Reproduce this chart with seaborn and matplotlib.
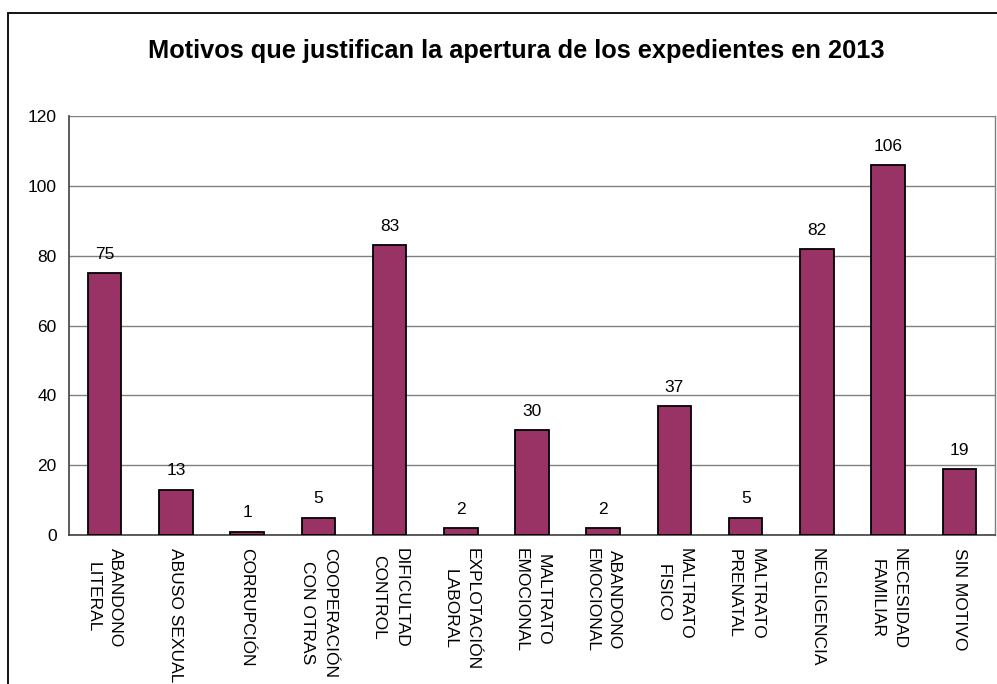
import matplotlib.pyplot as plt
import numpy as np
import pandas as pd
import seaborn as sns
from matplotlib.patches import Rectangle
from matplotlib.ticker import FixedLocator

# Data
categorias = ["ABANDONO\nLITERAL", "ABUSO SEXUAL", "CORRUPCIÓN", "COOPERACIÓN\nCON OTRAS",
              "DIFICULTAD\nCONTROL", "EXPLOTACIÓN\nLABORAL", "MALTRATO\nEMOCIONAL",
              "ABANDONO\nEMOCIONAL", "MALTRATO\nFISICO", "MALTRATO\nPRENATAL",
              "NEGLIGENCIA", "NECESIDAD\nFAMILIAR", "SIN MOTIVO"]
expedientes = [75, 13, 1, 5, 83, 2, 30, 2, 37, 5, 82, 106, 19]
y_ticks = [0, 20, 40, 60, 80, 100, 120]
titulo = "Motivos que justifican la apertura de los expedientes en 2013"

df = pd.DataFrame({"motivo": categorias, "n": expedientes})

sns.set_style("white")
plt.rcParams['font.family'] = ['Liberation Sans', 'DejaVu Sans']
plt.rcParams['text.color'] = 'black'
plt.rcParams['xtick.color'] = 'black'
plt.rcParams['ytick.color'] = 'black'

fig = plt.figure(figsize=(9.97, 6.84), dpi=100)
ax = fig.add_axes([69 / 997, 1 - 535 / 684, (995 - 69) / 997, (535 - 116) / 684])

sns.barplot(data=df, x="motivo", y="n", color="#993366", saturation=1, width=0.47,
            edgecolor="black", linewidth=1.3, ax=ax, zorder=3)

# value labels above the bars
for i, v in enumerate(expedientes):
    ax.annotate(str(v), (i, v), xytext=(0, 8), textcoords="offset points",
                ha="center", va="bottom", fontsize=12.5, color="black")

ax.set_xlim(-0.5, len(categorias) - 0.5)
ax.set_ylim(0, 120)
ax.set_yticks(y_ticks)
ax.set_yticklabels([str(t) for t in y_ticks], fontsize=12.5)
ax.yaxis.grid(True, color="#808080", linewidth=1, zorder=0)
ax.set_axisbelow(True)

ax.set_xticks(range(len(categorias)))
ax.set_xticklabels(categorias, rotation=270, fontsize=12.5, va="top", ha="center",
                   multialignment="center", linespacing=1.6)
ax.xaxis.set_minor_locator(FixedLocator(np.arange(-0.5, len(categorias), 1.0)))
ax.tick_params(axis="x", which="major", length=0, pad=9)
ax.tick_params(axis="x", which="minor", length=5, width=1, color="#404040", direction="out")
ax.tick_params(axis="y", length=5, width=1, color="#404040", direction="out", pad=4)

ax.set_xlabel("")
ax.set_ylabel("")

for side in ["left", "bottom"]:
    ax.spines[side].set_color("#404040")
    ax.spines[side].set_linewidth(1.2)
ax.spines["top"].set_visible(False)
ax.spines["right"].set_color("#808080")
ax.spines["right"].set_linewidth(1)

fig.text(0.518, 1 - 51 / 684, titulo, ha="center", va="center", fontsize=18.3,
         fontweight="bold", color="black")

# outer chart border (only top and left edges visible in the crop)
fig.add_artist(Rectangle((8 / 997, -0.2), 1.2, 1 - 13 / 684 + 0.2, transform=fig.transFigure,
                         fill=False, edgecolor="black", linewidth=1.3))

fig.savefig("out.png", dpi=100)
